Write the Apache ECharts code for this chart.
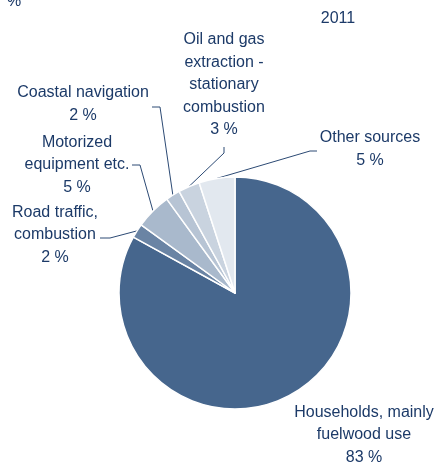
<!DOCTYPE html>
<html>
<head>
<meta charset="utf-8">
<style>
  html, body { margin: 0; padding: 0; background: #ffffff; }
  #chart { width: 439px; height: 465px; }
</style>
<script src="https://cdn.jsdelivr.net/npm/echarts@6/dist/echarts.min.js"></script>
</head>
<body>
<div id="chart"></div>
<script>
// Emission sources, 2011 (share in per cent)
const categories = [
  'Households, mainly\nfuelwood use',
  'Road traffic,\ncombustion',
  'Motorized\nequipment etc.',
  'Coastal navigation',
  'Oil and gas\nextraction -\nstationary\ncombustion',
  'Other sources'
];
const shares = [83, 2, 5, 2, 3, 5];
const year = '2011';
const unit = '%';

const colors = ['#46668d', '#6a84a4', '#a9b9cc', '#b7c4d4', '#c9d3df', '#e2e8ef'];
const textColor = '#1c3a68';
const fontFamily = 'Liberation Sans, Arial, sans-serif';

// Pie geometry (pixels)
const CX = 235, CY = 293, R = 116;

// Label placement: text centre and the elbow of its leader line
const labelLayoutCfg = [
  { x: 364, y: 435, line: null },
  { x: 55, y: 235, line: [[110, 238], [100, 238]] },
  { x: 77, y: 165, line: [[140, 165], [132, 165]] },
  { x: 83, y: 104, line: [[160, 107], [152, 107]] },
  { x: 224, y: 85, line: [[224, 153], [224, 147]] },
  { x: 370, y: 149, line: [[310, 151], [317, 151]] }
];

const total = shares.reduce((a, b) => a + b, 0);
function edgePoint(i) {
  let before = 0;
  for (let k = 0; k < i; k++) before += shares[k];
  const frac = (before + shares[i] / 2) / total;
  const ang = frac * 2 * Math.PI; // clockwise from 12 o'clock
  return [CX + R * Math.sin(ang), CY - R * Math.cos(ang)];
}

const chart = echarts.init(document.getElementById('chart'), null, { renderer: 'canvas' });

chart.setOption({
  animation: false,
  backgroundColor: '#ffffff',
  title: [
    {
      text: year,
      left: 333, top: 6,
      textAlign: 'center',
      textStyle: { color: textColor, fontFamily: fontFamily, fontSize: 16, fontWeight: 'normal' }
    },
    {
      text: unit,
      left: 2, top: -11,
      textStyle: { color: textColor, fontFamily: fontFamily, fontSize: 16, fontWeight: 'normal' }
    }
  ],
  series: [{
    type: 'pie',
    center: [CX, CY],
    radius: [0, R],
    startAngle: 90,
    clockwise: true,
    avoidLabelOverlap: false,
    itemStyle: { borderColor: '#ffffff', borderWidth: 1.5 },
    label: {
      show: true,
      position: 'outside',
      color: textColor,
      fontFamily: fontFamily,
      fontSize: 16,
      lineHeight: 22.5,
      align: 'center',
      formatter: p => p.name + '\n' + p.value + ' %'
    },
    labelLine: {
      show: true,
      lineStyle: { color: '#2c4a74', width: 1 }
    },
    labelLayout: function (params) {
      const cfg = labelLayoutCfg[params.dataIndex];
      const out = { x: cfg.x, y: cfg.y, align: 'center', verticalAlign: 'middle' };
      if (cfg.line) {
        out.labelLinePoints = [edgePoint(params.dataIndex), cfg.line[0], cfg.line[1]];
      } else {
        out.labelLinePoints = [[cfg.x, cfg.y], [cfg.x, cfg.y], [cfg.x, cfg.y]];
      }
      return out;
    },
    data: categories.map((name, i) => ({
      name: name,
      value: shares[i],
      itemStyle: { color: colors[i] },
      labelLine: { show: i !== 0 }
    }))
  }]
});
</script>
</body>
</html>
